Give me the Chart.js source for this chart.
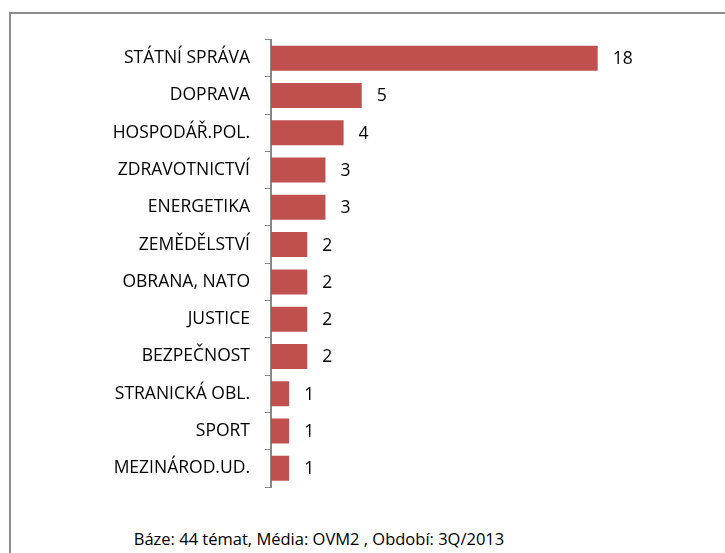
<!DOCTYPE html>
<html>
<head>
<meta charset="utf-8">
<script src="https://cdn.jsdelivr.net/npm/chart.js@4"></script>
<style>
  body { margin: 0; background: #fff; width: 725px; height: 553px; overflow: hidden; position: relative; }
  .frame { position: absolute; left: 9px; top: 12px; width: 760px; height: 600px; border: 2px solid #8c8c8c; box-sizing: border-box; }
  #wrap { position: absolute; left: 10px; top: 14px; width: 660px; height: 500px; }
  .footer { position: absolute; left: 0; width: 638px; top: 527px; text-align: center;
    font-family: 'Open Sans', sans-serif; font-size: 16.5px; color: #000; }
</style>
</head>
<body>
<div class="frame"></div>
<div id="wrap"><canvas id="canvasID"></canvas></div>
<div class="footer">Báze: 44 témat, Média: OVM2 , Období: 3Q/2013</div>
<script>
const categories = [
  'STÁTNÍ SPRÁVA', 'DOPRAVA', 'HOSPODÁŘ.POL.', 'ZDRAVOTNICTVÍ', 'ENERGETIKA',
  'ZEMĚDĚLSTVÍ', 'OBRANA, NATO', 'JUSTICE', 'BEZPEČNOST', 'STRANICKÁ OBL.',
  'SPORT', 'MEZINÁROD.UD.'
]
const counts = [18, 5, 4, 3, 3, 2, 2, 2, 2, 1, 1, 1]

const FONT = "'Open Sans', sans-serif"

// value labels right of each bar
const valueLabels = {
  id: 'valueLabels',
  afterDatasetsDraw(chart) {
    const ctx = chart.ctx
    const meta = chart.getDatasetMeta(0)
    ctx.save()
    ctx.font = '17.5px ' + FONT
    ctx.fillStyle = '#000'
    ctx.textAlign = 'left'
    ctx.textBaseline = 'middle'
    meta.data.forEach((bar, i) => {
      ctx.fillText(String(counts[i]), bar.x + 15, bar.y + 1)
    })
    ctx.restore()
  },
}

new Chart(document.getElementById('canvasID'), {
  type: 'bar',
  data: {
    labels: categories,
    datasets: [
      {
        data: counts,
        backgroundColor: '#C0504D',
        categoryPercentage: 1,
        barPercentage: 0.67,
      },
    ],
  },
  options: {
    indexAxis: 'y',
    responsive: true,
    maintainAspectRatio: false,
    animation: false,
    layout: { padding: { top: 24, bottom: 27, right: 36, left: 0 } },
    scales: {
      x: {
        display: false,
        min: 0,
        max: 20,
      },
      y: {
        afterFit: (scale) => { scale.width = 261 },
        grid: {
          drawOnChartArea: false,
          tickLength: 6,
          color: '#868686',
          lineWidth: 1,
        },
        border: { color: '#868686', width: 2 },
        ticks: {
          padding: 15,
          color: '#000',
          font: { family: FONT, size: 17.5 },
        },
      },
    },
    plugins: {
      legend: { display: false },
      tooltip: { enabled: false },
    },
  },
  plugins: [valueLabels],
})
</script>
</body>
</html>
